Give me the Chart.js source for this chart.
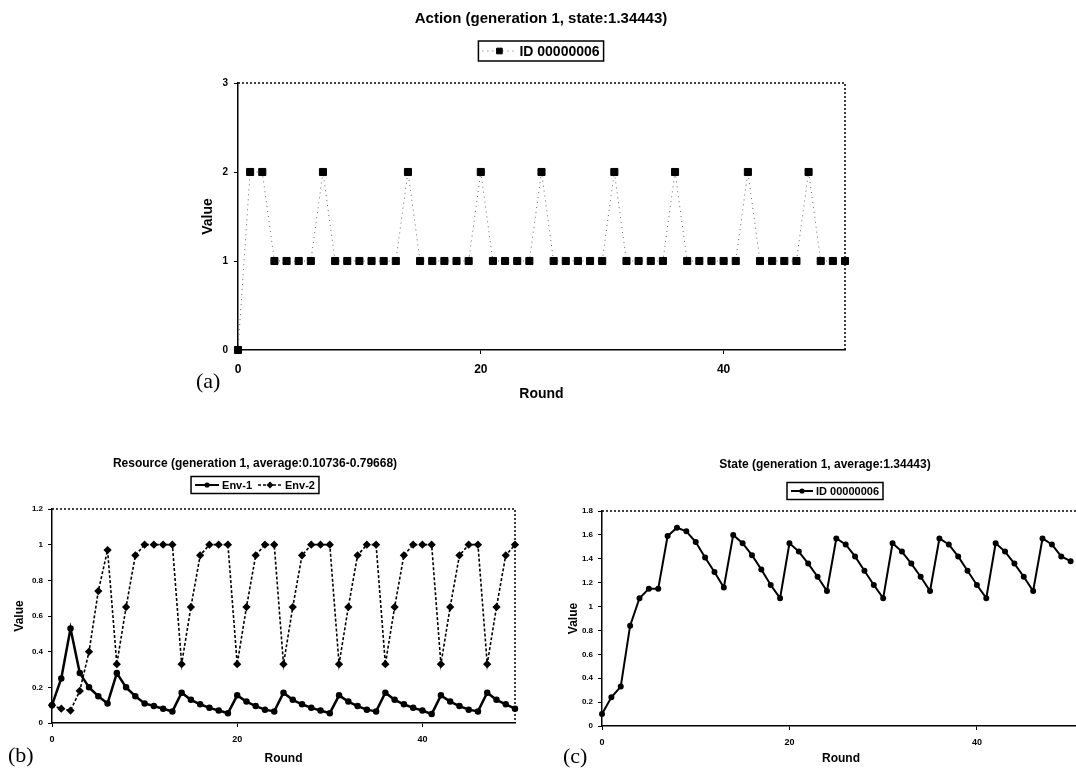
<!DOCTYPE html>
<html lang="en">
  <head>
    <meta charset="UTF-8" />
    <title>Action / Resource / State</title>
    <style>
      body {
        margin: 0;
        width: 1076px;
        height: 770px;
        overflow: hidden;
        background: #fff;
        position: relative;
      }
      .box {
        position: absolute;
      }
      .tag {
        position: absolute;
        font-family: "Liberation Serif", "Times New Roman", serif;
        font-size: 22px;
        color: #000;
        line-height: 1;
      }
    </style>
  </head>
  <body>
    <div class="box" style="left: 0; top: 0"><canvas id="chartAction" width="870" height="407"></canvas></div>
    <div class="box" style="left: 0; top: 440px"><canvas id="chartResource" width="530" height="330"></canvas></div>
    <div class="box" style="left: 540px; top: 440px"><canvas id="chartState" width="560" height="330"></canvas></div>
    <div class="tag" style="left: 196px; top: 370px">(a)</div>
    <div class="tag" style="left: 8px; top: 744px">(b)</div>
    <div class="tag" style="left: 563px; top: 745px">(c)</div>

    <script src="https://cdn.jsdelivr.net/npm/chart.js"></script>
    <script>
      // rounds 0..50
      const rounds = [
        0, 1, 2, 3, 4, 5, 6, 7, 8, 9, 10, 11, 12, 13, 14, 15, 16, 17, 18, 19, 20,
        21, 22, 23, 24, 25, 26, 27, 28, 29, 30, 31, 32, 33, 34, 35, 36, 37, 38,
        39, 40, 41, 42, 43, 44, 45, 46, 47, 48, 49, 50,
      ];

      const action = [
        0, 2, 2, 1, 1, 1, 1, 2, 1, 1, 1, 1, 1, 1, 2, 1, 1, 1, 1, 1, 2, 1, 1, 1,
        1, 2, 1, 1, 1, 1, 1, 2, 1, 1, 1, 1, 2, 1, 1, 1, 1, 1, 2, 1, 1, 1, 1, 2,
        1, 1, 1,
      ];

      const env1 = [
        0.1, 0.25, 0.53, 0.28, 0.2, 0.15, 0.11, 0.28, 0.2, 0.15, 0.11, 0.095,
        0.08, 0.065, 0.17, 0.13, 0.105, 0.085, 0.07, 0.055, 0.155, 0.12, 0.095,
        0.075, 0.065, 0.17, 0.13, 0.105, 0.085, 0.07, 0.055, 0.155, 0.12, 0.095,
        0.075, 0.065, 0.17, 0.13, 0.105, 0.085, 0.07, 0.05, 0.155, 0.12, 0.095,
        0.075, 0.065, 0.17, 0.13, 0.105, 0.08,
      ];

      const env2 = [
        0.1, 0.08, 0.07, 0.18, 0.4, 0.74, 0.97, 0.33, 0.65, 0.94, 1, 1, 1, 1,
        0.33, 0.65, 0.94, 1, 1, 1, 0.33, 0.65, 0.94, 1, 1, 0.33, 0.65, 0.94, 1,
        1, 1, 0.33, 0.65, 0.94, 1, 1, 0.33, 0.65, 0.94, 1, 1, 1, 0.33, 0.65,
        0.94, 1, 1, 0.33, 0.65, 0.94, 1,
      ];

      const state = [
        0.1, 0.24, 0.33, 0.84, 1.07, 1.15, 1.15, 1.59, 1.66, 1.63, 1.54, 1.41,
        1.29, 1.16, 1.6, 1.53, 1.43, 1.31, 1.18, 1.07, 1.53, 1.46, 1.36, 1.25,
        1.13, 1.57, 1.52, 1.42, 1.3, 1.18, 1.07, 1.53, 1.46, 1.36, 1.25, 1.13,
        1.57, 1.52, 1.42, 1.3, 1.18, 1.07, 1.53, 1.46, 1.36, 1.25, 1.13, 1.57,
        1.52, 1.42, 1.38,
      ];

      const roundTicks = [0, 20, 40];
      const actionTicks = [0, 1, 2, 3];
      const resourceTicks = [0, 0.2, 0.4, 0.6, 0.8, 1, 1.2];
      const stateTicks = [0, 0.2, 0.4, 0.6, 0.8, 1, 1.2, 1.4, 1.6, 1.8];

      const FONT = '"Liberation Sans", Arial, sans-serif';
      Chart.defaults.font.family = FONT;
      Chart.defaults.color = "#000";

      const toPoints = (ys) => ys.map((y, i) => ({ x: rounds[i], y: y }));

      // title, boxed legend and the dotted top/right frame
      const headerPlugin = {
        id: "header",
        afterDraw(chart, args, opts) {
          const ctx = chart.ctx;
          const area = chart.chartArea;
          ctx.save();

          ctx.strokeStyle = "#000";
          ctx.lineWidth = 1.5;
          ctx.setLineDash([2, 2]);
          ctx.beginPath();
          ctx.moveTo(area.left, area.top);
          ctx.lineTo(area.right, area.top);
          ctx.lineTo(area.right, area.bottom);
          ctx.stroke();

          ctx.setLineDash([]);
          ctx.fillStyle = "#000";
          ctx.textAlign = "center";
          ctx.textBaseline = "middle";
          ctx.font = "bold " + opts.titleSize + "px " + FONT;
          ctx.fillText(opts.title, opts.cx, opts.titleY);

          ctx.font = "bold " + opts.legendSize + "px " + FONT;
          const sample = opts.sample;
          const gap = 6;
          const items = chart.data.datasets.map((ds) => ({
            ds: ds,
            w: sample + 3 + ctx.measureText(ds.label).width,
          }));
          const inner =
            items.reduce((a, it) => a + it.w, 0) + gap * (items.length - 1);
          let x = opts.lx - inner / 2;
          const y = opts.legendY;
          items.forEach((it) => {
            const ds = it.ds;
            ctx.strokeStyle = ds.borderColor;
            ctx.lineWidth = Math.min(ds.borderWidth, 2);
            ctx.setLineDash(ds.borderDash || []);
            ctx.beginPath();
            ctx.moveTo(x, y);
            ctx.lineTo(x + sample, y);
            ctx.stroke();
            ctx.setLineDash([]);
            ctx.fillStyle = ds.pointBackgroundColor;
            ctx.strokeStyle = ds.pointBorderColor;
            Chart.helpers.drawPoint(
              ctx,
              {
                pointStyle: ds.pointStyle,
                radius: ds.pointRadius * 0.8,
                rotation: 0,
                borderWidth: 1,
              },
              x + sample / 2,
              y
            );
            ctx.fillStyle = "#000";
            ctx.textAlign = "left";
            ctx.fillText(ds.label, x + sample + 3, y + 1);
            x += it.w + gap;
          });
          const h = opts.legendSize + 6;
          ctx.strokeStyle = "#000";
          ctx.lineWidth = 1.5;
          ctx.strokeRect(
            opts.lx - inner / 2 - 4,
            y - h / 2,
            inner + 8,
            h
          );
          ctx.restore();
        },
      };

      function axis(ticks, opts) {
        return {
          type: "linear",
          min: opts.min,
          max: opts.max,
          afterBuildTicks: (s) => {
            s.ticks = ticks.map((v) => ({ value: v }));
          },
          afterFit: (s) => {
            if (opts.width) s.width = opts.width;
            if (opts.height) s.height = opts.height;
          },
          grid: {
            display: true,
            drawOnChartArea: false,
            drawTicks: true,
            tickLength: 4,
            color: "#000",
          },
          border: {
            display: true,
            color: "#000",
            width: 1.5,
            dash: opts.dash || [],
          },
          ticks: {
            padding: opts.pad,
            font: { size: opts.tickSize, weight: "bold" },
            callback: (v) => String(v),
            maxRotation: 0,
          },
          title: {
            display: true,
            text: opts.title,
            font: { size: opts.titleSize, weight: "bold" },
            padding: { top: 4, bottom: 4 },
          },
        };
      }

      // (a) Action
      new Chart(document.getElementById("chartAction"), {
        type: "line",
        data: {
          datasets: [
            {
              label: "ID 00000006",
              data: toPoints(action),
              borderColor: "#666",
              borderWidth: 1,
              borderDash: [1, 4],
              pointStyle: "rect",
              pointRadius: 5,
              pointBackgroundColor: "#000",
              pointBorderColor: "#000",
              pointBorderWidth: 1,
              clip: false,
            },
          ],
        },
        options: {
          responsive: false,
          animation: false,
          layout: { padding: { left: 196, right: 25, top: 83, bottom: 0 } },
          scales: {
            x: axis(roundTicks, {
              min: 0,
              max: 50,
              height: 57,
              pad: 8,
              tickSize: 12,
              title: "Round",
              titleSize: 14,
            }),
            y: axis(actionTicks, {
              min: 0,
              max: 3,
              width: 42,
              pad: 6,
              tickSize: 10,
              title: "Value",
              titleSize: 14,
              dash: [3, 1],
            }),
          },
          plugins: {
            legend: { display: false },
            tooltip: { enabled: false },
            header: {
              title: "Action (generation 1, state:1.34443)",
              titleSize: 15,
              cx: 541,
              titleY: 19,
              lx: 541,
              legendY: 51,
              legendSize: 14,
              sample: 34,
            },
          },
        },
        plugins: [headerPlugin],
      });

      // (b) Resource
      new Chart(document.getElementById("chartResource"), {
        type: "line",
        data: {
          datasets: [
            {
              label: "Env-1",
              data: toPoints(env1),
              borderColor: "#000",
              borderWidth: 2.5,
              pointStyle: "circle",
              pointRadius: 2,
              pointBackgroundColor: "#000",
              pointBorderColor: "#000",
              clip: false,
            },
            {
              label: "Env-2",
              data: toPoints(env2),
              borderColor: "#000",
              borderWidth: 1.6,
              borderDash: [3, 2],
              pointStyle: "rectRot",
              pointRadius: 3,
              pointBackgroundColor: "#000",
              pointBorderColor: "#000",
              clip: false,
            },
          ],
        },
        options: {
          responsive: false,
          animation: false,
          layout: { padding: { left: 8, right: 15, top: 69, bottom: 0 } },
          scales: {
            x: axis(roundTicks, {
              min: 0,
              max: 50,
              height: 47,
              pad: 7,
              tickSize: 9,
              title: "Round",
              titleSize: 12,
              dash: [2, 2],
            }),
            y: axis(resourceTicks, {
              min: 0,
              max: 1.2,
              width: 44,
              pad: 5,
              tickSize: 8,
              title: "Value",
              titleSize: 12,
            }),
          },
          plugins: {
            legend: { display: false },
            tooltip: { enabled: false },
            header: {
              title: "Resource (generation 1, average:0.10736-0.79668)",
              titleSize: 12,
              cx: 255,
              titleY: 24,
              lx: 255,
              legendY: 45,
              legendSize: 11,
              sample: 24,
            },
          },
        },
        plugins: [headerPlugin],
      });

      // (c) State
      new Chart(document.getElementById("chartState"), {
        type: "line",
        data: {
          datasets: [
            {
              label: "ID 00000006",
              data: toPoints(state),
              borderColor: "#000",
              borderWidth: 2,
              pointStyle: "circle",
              pointRadius: 2,
              pointBackgroundColor: "#000",
              pointBorderColor: "#000",
              clip: false,
            },
          ],
        },
        options: {
          responsive: false,
          animation: false,
          layout: { padding: { left: 22, right: 20, top: 71, bottom: 0 } },
          scales: {
            x: axis(roundTicks, {
              min: 0,
              max: 51,
              height: 44,
              pad: 7,
              tickSize: 9,
              title: "Round",
              titleSize: 12,
            }),
            y: axis(stateTicks, {
              min: 0,
              max: 1.8,
              width: 40,
              pad: 5,
              tickSize: 8,
              title: "Value",
              titleSize: 12,
            }),
          },
          plugins: {
            legend: { display: false },
            tooltip: { enabled: false },
            header: {
              title: "State (generation 1, average:1.34443)",
              titleSize: 12,
              cx: 285,
              titleY: 25,
              lx: 295,
              legendY: 51,
              legendSize: 11,
              sample: 22,
            },
          },
        },
        plugins: [headerPlugin],
      });
    </script>
  </body>
</html>
